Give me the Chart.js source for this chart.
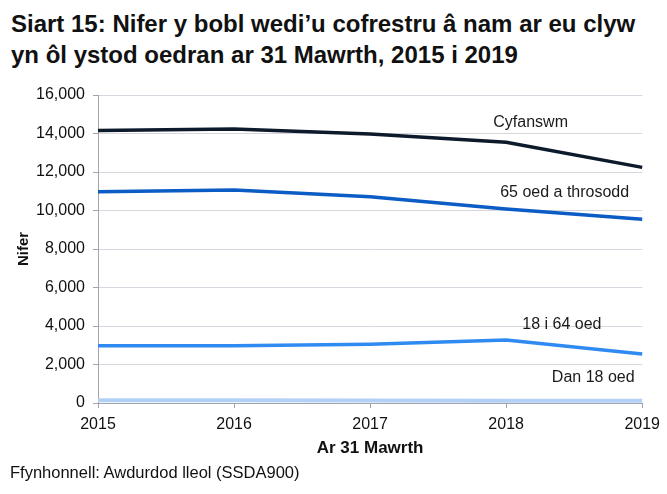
<!DOCTYPE html>
<html>
<head>
<meta charset="utf-8">
<script src="https://cdn.jsdelivr.net/npm/chart.js@4"></script>
<style>
  html, body { margin: 0; padding: 0; background: #fff; }
  #wrap { position: relative; width: 667px; height: 494px; overflow: hidden; }
  #title {
    position: absolute; left: 11px; top: 8px; margin: 0;
    font: bold 24px 'Liberation Sans', Arial, sans-serif;
    line-height: 31px; color: #111; white-space: nowrap;
  }
  #source {
    position: absolute; left: 10px; top: 463px;
    font: 16.5px 'Liberation Sans', Arial, sans-serif; color: #111;
  }
  canvas { position: absolute; left: 0; top: 0; }
</style>
</head>
<body>
<div id="wrap">
  <div id="title">Siart 15: Nifer y bobl wedi’u cofrestru â nam ar eu clyw<br>yn ôl ystod oedran ar 31 Mawrth, 2015 i 2019</div>
  <canvas id="chart" width="667" height="494"></canvas>
  <div id="source">Ffynhonnell: Awdurdod lleol (SSDA900)</div>
</div>
<script>
const YEARS = ['2015', '2016', '2017', '2018', '2019'];

const TOTAL     = [14150, 14230, 13970, 13540, 12240];
const OVER_65   = [10980, 11060, 10720, 10080, 9540];
const AGE_18_64 = [2980, 2980, 3050, 3270, 2550];
const UNDER_18  = [140, 140, 130, 120, 120];

const SERIES_NAMES = ['Cyfanswm', '65 oed a throsodd', '18 i 64 oed', 'Dan 18 oed'];

// label anchors: x in category index units, y in axis units
const LABEL_SPOTS = [
  { x: 3.18, y: 14560 },
  { x: 3.43, y: 10920 },
  { x: 3.41, y: 4050 },
  { x: 3.64, y: 1300 },
];

const FONT = "'Liberation Sans', Arial, sans-serif";
const AXIS_GREY = '#a3a3ad';

const seriesLabels = {
  id: 'seriesLabels',
  afterDatasetsDraw(chart) {
    const { ctx, scales: { x, y } } = chart;
    ctx.save();
    ctx.font = '16px ' + FONT;
    ctx.fillStyle = '#1a1a1a';
    ctx.textAlign = 'center';
    ctx.textBaseline = 'middle';
    SERIES_NAMES.forEach((name, i) => {
      const spot = LABEL_SPOTS[i];
      ctx.fillText(name, x.getPixelForValue(spot.x), y.getPixelForValue(spot.y));
    });
    ctx.restore();
  },
};

function line(data, color, width) {
  return {
    data,
    borderColor: color,
    backgroundColor: color,
    borderWidth: width,
    pointRadius: 0,
    tension: 0,
    fill: false,
  };
}

new Chart(document.getElementById('chart'), {
  type: 'line',
  data: {
    labels: YEARS,
    datasets: [
      line(TOTAL, '#0c1a2c', 3.5),
      line(OVER_65, '#0b5cc4', 3.5),
      line(AGE_18_64, '#2f8af2', 3.5),
      line(UNDER_18, '#b3d1f7', 4),
    ],
  },
  options: {
    responsive: false,
    animation: false,
    layout: { padding: { left: 15, top: 95, right: 24, bottom: 35 } },
    plugins: {
      legend: { display: false },
      tooltip: { enabled: false },
    },
    scales: {
      x: {
        offset: false,
        afterFit: s => { s.height = 56; },
        grid: { drawOnChartArea: false, drawTicks: true, tickLength: 5, tickColor: AXIS_GREY },
        border: { color: AXIS_GREY, width: 1 },
        ticks: { color: '#111', padding: 7, maxRotation: 0, font: { family: FONT, size: 16 } },
        title: { display: true, text: 'Ar 31 Mawrth', color: '#111', padding: 0, font: { family: FONT, size: 17, weight: 'bold' } },
      },
      y: {
        min: 0,
        max: 16000,
        afterFit: s => { s.width = 83; },
        grid: { color: '#d6d6de', lineWidth: 1, drawTicks: true, tickLength: 5, tickColor: AXIS_GREY },
        border: { color: AXIS_GREY, width: 1 },
        ticks: {
          stepSize: 2000,
          color: '#111',
          padding: 8,
          font: { family: FONT, size: 16 },
          callback: v => v.toLocaleString('en-GB'),
        },
        title: { display: true, text: 'Nifer', color: '#111', padding: 0, font: { family: FONT, size: 15, weight: 'bold' } },
      },
    },
  },
  plugins: [seriesLabels],
});
</script>
</body>
</html>
